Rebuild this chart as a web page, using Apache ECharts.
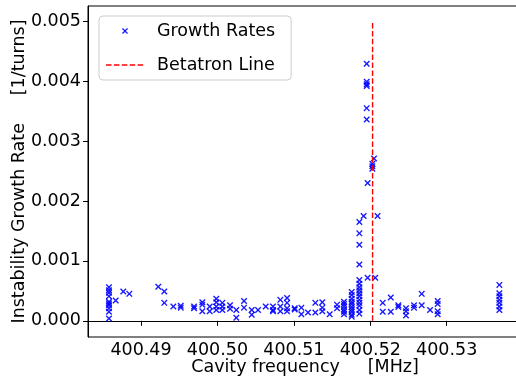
<!DOCTYPE html>
<html>
<head>
<meta charset="utf-8">
<script src="https://cdn.jsdelivr.net/npm/echarts@6/dist/echarts.min.js"></script>
<style>
  html, body { margin: 0; padding: 0; background: #fff; }
  #chart { width: 516px; height: 379px; }
</style>
</head>
<body>
<div id="chart"></div>
<script>
// measured growth rates, one column of points per cavity frequency [MHz]
const colFreq = [
  400.48581, 400.48669, 400.48768, 400.48847, 400.49226, 400.49305, 400.49423,
  400.49520, 400.49694, 400.49802, 400.49899, 400.49985, 400.50064, 400.50165,
  400.50247, 400.50348, 400.50449, 400.50531, 400.50632, 400.50727, 400.50823,
  400.50911, 400.51011, 400.51098, 400.51185, 400.51281, 400.51372, 400.51469,
  400.51565, 400.51656, 400.51757, 400.51857, 400.51913, 400.51953, 400.51965,
  400.52027, 400.52049, 400.52065, 400.52095, 400.52163, 400.52268, 400.52367,
  400.52467, 400.52572, 400.52673, 400.52782, 400.52882, 400.53689
];
const colRates = [
  [0.00056, 0.00051, 0.00047, 0.00041, 0.00032, 0.00029, 0.00026, 0.00021, 0.00015, 0.00004],
  [0.00034],
  [0.00049],
  [0.00045],
  [0.00057],
  [0.00049, 0.00030],
  [0.00024],
  [0.00025, 0.00022],
  [0.00024, 0.00021],
  [0.00031, 0.00027, 0.00016],
  [0.00024, 0.00016],
  [0.00037, 0.00031, 0.00024, 0.00018],
  [0.00030, 0.00024, 0.00018],
  [0.00026, 0.00020],
  [0.00018, 0.00005],
  [0.00033, 0.00022],
  [0.00018, 0.00010],
  [0.00018],
  [0.00024],
  [0.00024, 0.00018, 0.00016],
  [0.00035, 0.00024, 0.00016],
  [0.00038, 0.00030, 0.00021, 0.00016],
  [0.00021, 0.00019],
  [0.00022, 0.00011],
  [0.00014],
  [0.00030, 0.00014],
  [0.00031, 0.00022, 0.00016],
  [0.00011],
  [0.00027, 0.00021],
  [0.00032, 0.00028, 0.00024, 0.00019, 0.00015, 0.00011],
  [0.00048, 0.00043, 0.00037, 0.00032, 0.00028, 0.00023, 0.00019, 0.00015, 0.00010, 0.00007],
  [0.00165, 0.00146, 0.00127, 0.00094, 0.00068, 0.00062, 0.00056, 0.00051, 0.00046, 0.00041, 0.00035, 0.00030, 0.00025, 0.00018, 0.00012],
  [0.00175],
  [0.00429, 0.00399, 0.00395, 0.00392, 0.00355, 0.00336],
  [0.00230, 0.00072],
  [0.00262, 0.00258, 0.00254],
  [0.00271],
  [0.00072],
  [0.00175],
  [0.00030, 0.00015],
  [0.00039, 0.00015],
  [0.00026, 0.00023],
  [0.00021, 0.00016, 0.00009],
  [0.00026, 0.00022],
  [0.00045, 0.00026],
  [0.00018],
  [0.00033, 0.00028, 0.00016, 0.00011],
  [0.00060, 0.00046, 0.00041, 0.00035, 0.00030, 0.00024, 0.00018]
];
const betatronFreq = 400.5203;
const betatronRates = [0, 0.005];
const xTicks = [400.49, 400.50, 400.51, 400.52, 400.53];
const yTicks = [0, 0.001, 0.002, 0.003, 0.004, 0.005];

const growthData = colFreq.flatMap((f, i) => colRates[i].map(r => [f, r]));
const betatronData = betatronRates.map(r => [betatronFreq, r]);

const FONT = 'DejaVu Sans';

// 'x' marker drawn as a filled polygon, offset/scaled
function crossPath(ox, oy, s) {
  const pts = [[0,1.5],[1.5,0],[5,3.5],[8.5,0],[10,1.5],[6.5,5],[10,8.5],[8.5,10],[5,6.5],[1.5,10],[0,8.5],[3.5,5]];
  return 'M' + pts.map(p => (ox + p[0] * s).toFixed(2) + ',' + (oy + p[1] * s).toFixed(2)).join('L') + 'Z';
}
// tiny anchors so the legend icon box is 46x6
const anchors = 'M0,0L0.01,0L0,0.01Z M46,6L45.99,6L46,5.99Z';
const crossIcon = 'path://' + anchors + ' ' + crossPath(16, 0, 0.6);
let dashIcon = 'path://' + anchors;
for (let x = 0; x < 38; x += 7.9) {
  dashIcon += ' M' + x + ',2.25h' + Math.min(5.5, 38 - x) + 'v1.5h-' + Math.min(5.5, 38 - x) + 'z';
}

const chart = echarts.init(document.getElementById('chart'));
chart.setOption({
  animation: false,
  backgroundColor: '#fff',
  grid: {
    left: 88, top: 6, right: -6, bottom: 42,
    outerBoundsMode: 'none',
    containLabel: false,
    show: true, borderColor: '#000', borderWidth: 1
  },
  legend: {
    left: 99, top: 16, orient: 'vertical',
    itemWidth: 46, itemHeight: 6, itemGap: 14,
    padding: [5, 16, 5, 7],
    borderColor: '#cccccc', borderWidth: 1, borderRadius: 4,
    backgroundColor: 'rgba(255,255,255,0.8)',
    itemStyle: { borderWidth: 0 },
    textStyle: { fontFamily: FONT, fontSize: 17.5, color: '#000', lineHeight: 20 },
    data: [
      { name: 'Growth Rates', icon: crossIcon, itemStyle: { color: '#0000ff' } },
      { name: 'Betatron Line', icon: dashIcon, itemStyle: { color: '#ff0000' } }
    ]
  },
  xAxis: {
    type: 'value',
    min: 400.483065, max: 400.53985,
    name: 'Cavity frequency     [MHz]',
    nameLocation: 'middle', nameGap: 21, nameMoveOverlap: false,
    nameTextStyle: { fontFamily: FONT, fontSize: 17.5, color: '#000' },
    axisLine: { show: true, lineStyle: { color: '#000', width: 1 } },
    axisTick: { show: true, length: 5, customValues: xTicks, lineStyle: { color: '#000' } },
    axisLabel: {
      customValues: xTicks, margin: 4,
      fontFamily: FONT, fontSize: 17.5, color: '#000',
      formatter: v => v.toFixed(2)
    },
    splitLine: { show: false }
  },
  yAxis: {
    type: 'value',
    min: -0.00027, max: 0.005255,
    name: 'Instability Growth Rate     [1/turns]',
    nameLocation: 'middle', nameGap: 60, nameMoveOverlap: false,
    nameTextStyle: { fontFamily: FONT, fontSize: 17.5, color: '#000' },
    axisLine: { show: true, lineStyle: { color: '#000', width: 1 } },
    axisTick: { show: true, length: 5, customValues: yTicks, lineStyle: { color: '#000' } },
    axisLabel: {
      customValues: yTicks, margin: 7,
      fontFamily: FONT, fontSize: 17.5, color: '#000',
      formatter: v => v.toFixed(3)
    },
    splitLine: { show: false }
  },
  series: [
    {
      name: 'Betatron Line',
      type: 'line',
      data: betatronData,
      symbol: 'none',
      itemStyle: { color: '#ff0000' },
      lineStyle: { color: '#ff0000', width: 1.4, type: [5.5, 2.4] },
      z: 3
    },
    {
      name: 'Growth Rates',
      type: 'scatter',
      data: growthData,
      symbol: 'path://' + crossPath(0, 0, 1),
      symbolSize: 6.5,
      itemStyle: { color: '#0000ff', opacity: 0.9 },
      z: 2
    }
  ]
});
</script>
</body>
</html>
